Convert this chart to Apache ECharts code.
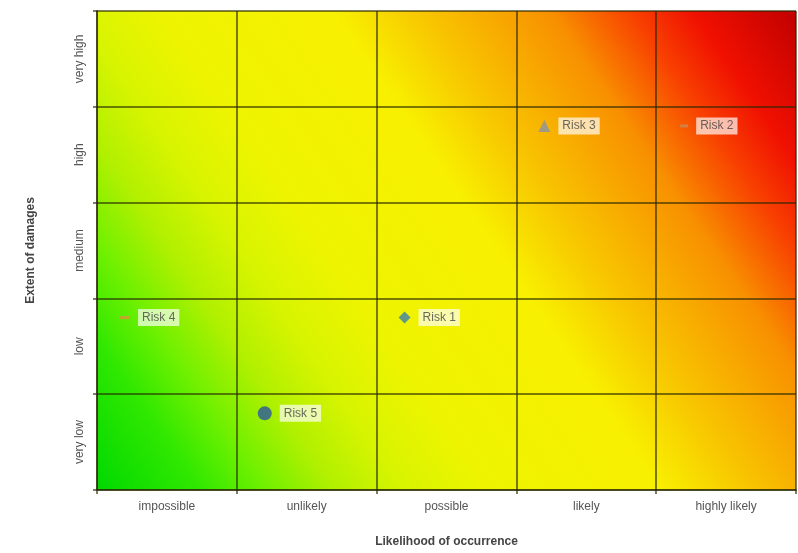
<!DOCTYPE html>
<html><head><meta charset="utf-8">
<script src="https://cdn.jsdelivr.net/npm/echarts@6/dist/echarts.min.js"></script>
<style>html,body{margin:0;padding:0;background:#fff}#c{width:798px;height:553px}</style>
</head><body><div id="c"></div>
<script>
const likelihoodLabels = ['impossible', 'unlikely', 'possible', 'likely', 'highly likely'];
const damageLabels = ['very low', 'low', 'medium', 'high', 'very high'];
const riskNames = ['Risk 1', 'Risk 2', 'Risk 3', 'Risk 4', 'Risk 5'];
const riskLikelihood = [2.2, 4.2, 3.2, 0.2, 1.2];
const riskDamage = [1.8, 3.8, 3.8, 1.8, 0.8];

const markerStyles = [
  {symbol: 'diamond', size: 12, color: '#3d7fae'},
  {symbol: 'rect', size: [8, 3], color: '#c88a5a'},
  {symbol: 'triangle', size: 12, color: '#8a94a0'},
  {symbol: 'rect', size: [10, 3], color: '#e0923a'},
  {symbol: 'circle', size: 14, color: '#2a56a0'}
];

const chart = echarts.init(document.getElementById('c'));
const lineCol = 'rgba(40,40,0,0.6)';
const font = 'Liberation Sans, Arial, sans-serif';
const data = riskNames.map((n, i) => ({
  name: n,
  value: [riskLikelihood[i], riskDamage[i]],
  symbol: markerStyles[i].symbol,
  symbolSize: markerStyles[i].size,
  itemStyle: {color: markerStyles[i].color}
}));

chart.setOption({
  animation: false,
  grid: {
    left: 97, right: 2, top: 11, bottom: 60, show: true, borderWidth: 0,
    backgroundColor: new echarts.graphic.LinearGradient(0, 1, 1, 0, [
      {offset: 0, color: '#00d800'},
      {offset: 0.1, color: '#30e800'},
      {offset: 0.165, color: '#70f000'},
      {offset: 0.23, color: '#b0f000'},
      {offset: 0.3, color: '#d8f400'},
      {offset: 0.38, color: '#eef400'},
      {offset: 0.55, color: '#f8f000'},
      {offset: 0.63, color: '#f8c800'},
      {offset: 0.76, color: '#f89000'},
      {offset: 0.84, color: '#f84000'},
      {offset: 0.9, color: '#f01000'},
      {offset: 1, color: '#c00000'}
    ])
  },
  xAxis: [
    {type: 'value', min: 0, max: 5, interval: 1, position: 'bottom',
     axisLine: {show: true, lineStyle: {color: lineCol, width: 2}},
     axisTick: {show: true, length: 4, lineStyle: {color: lineCol, width: 2}},
     axisLabel: {show: false},
     splitLine: {show: true, lineStyle: {color: lineCol, width: 2}}},
    {type: 'category', data: likelihoodLabels, position: 'bottom', boundaryGap: true,
     axisLine: {show: false}, axisTick: {show: false}, splitLine: {show: false},
     axisLabel: {color: '#555', fontSize: 12, fontFamily: font, margin: 11},
     name: 'Likelihood of occurrence', nameLocation: 'middle', nameGap: 46,
     nameTextStyle: {color: '#444', fontSize: 12, fontWeight: 'bold', fontFamily: font}}
  ],
  yAxis: [
    {type: 'value', min: 0, max: 5, interval: 1, position: 'left',
     axisLine: {show: true, lineStyle: {color: lineCol, width: 2}},
     axisTick: {show: true, length: 4, lineStyle: {color: lineCol, width: 2}},
     axisLabel: {show: false},
     splitLine: {show: true, lineStyle: {color: lineCol, width: 2}}},
    {type: 'category', data: damageLabels, position: 'left', boundaryGap: true,
     axisLine: {show: false}, axisTick: {show: false}, splitLine: {show: false},
     axisLabel: {color: '#555', fontSize: 12, fontFamily: font, rotate: 90, margin: 11},
     name: 'Extent of damages', nameLocation: 'middle', nameGap: 60,
     nameTextStyle: {color: '#444', fontSize: 12, fontWeight: 'bold', fontFamily: font}}
  ],
  series: [{
    type: 'scatter', xAxisIndex: 0, yAxisIndex: 0, data: data,
    label: {show: true, position: 'right', distance: 8, formatter: '{b}',
      color: '#444', fontSize: 12, fontFamily: font,
      backgroundColor: 'rgba(255,255,255,0.85)', padding: [3, 4, 2, 4]}
  }]
});
</script></body></html>
